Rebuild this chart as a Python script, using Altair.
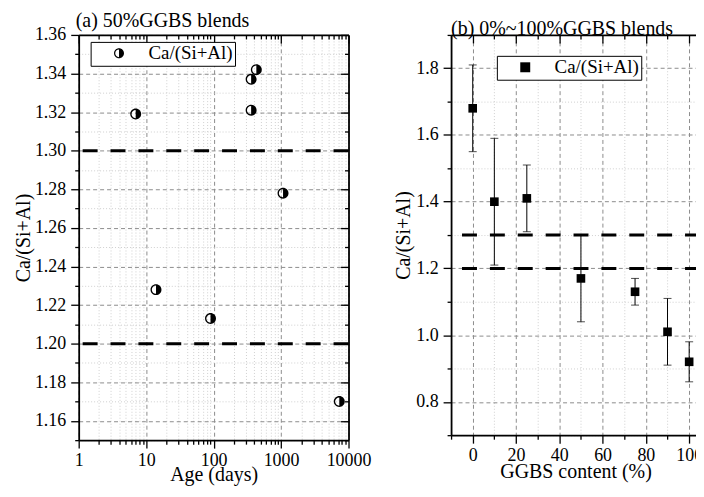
import altair as alt
import pandas as pd

FONT = "Liberation Serif"
series_name = ["Ca/(Si+Al)"]

# ---------------- Panel (a): 50% GGBS blends ----------------
age_days = [7, 14, 90, 360, 360, 430, 1070, 7300]
ratio_a = [1.319, 1.228, 1.213, 1.337, 1.321, 1.342, 1.278, 1.170]

# ---------------- Panel (b): 0%~100% GGBS blends ----------------
ggbs_pct = [0, 10, 25, 50, 75, 90, 100]
ratio_b = [1.68, 1.40, 1.41, 1.17, 1.13, 1.01, 0.92]
ratio_b_low = [1.55, 1.21, 1.31, 1.04, 1.09, 0.91, 0.86]
ratio_b_high = [1.81, 1.59, 1.51, 1.30, 1.17, 1.11, 0.98]

limit_lines = [1.2, 1.3]

# tick values
a_x_major = [1, 10, 100, 1000, 10000]
a_x_minor = [2, 3, 4, 5, 6, 7, 8, 9, 20, 30, 40, 50, 60, 70, 80, 90,
             200, 300, 400, 500, 600, 700, 800, 900,
             2000, 3000, 4000, 5000, 6000, 7000, 8000, 9000]
a_y_major = [1.16, 1.18, 1.20, 1.22, 1.24, 1.26, 1.28, 1.30, 1.32, 1.34, 1.36]
a_y_minor = [1.15, 1.17, 1.19, 1.21, 1.23, 1.25, 1.27, 1.29, 1.31, 1.33, 1.35]
b_x_major = [0, 20, 40, 60, 80, 100]
b_x_minor = [-10, 10, 30, 50, 70, 90]
b_y_major = [0.8, 1.0, 1.2, 1.4, 1.6, 1.8]
b_y_minor = [0.7, 0.9, 1.1, 1.3, 1.5, 1.7, 1.9]

HALF_CIRCLE = ("M0,-1A1,1,0,0,1,0,1A1,1,0,0,1,0,-1Z"
               "M0,-0.76A0.76,0.76,0,0,0,0,0.76Z")

W_A, H_A = 271, 407
W_B, H_B = 250, 402

MAJOR_GRID = dict(grid=True, gridDash=[4, 3], gridColor="#8c8c8c", gridWidth=1)
MINOR_GRID = dict(grid=True, gridDash=[1, 2], gridColor="#d0d0d0", gridWidth=1)


def ax_major_main(values, orient, title, fmt, label_pad, title_pad):
    return alt.Axis(values=values, orient=orient, title=title, format=fmt,
                    tickSize=8, tickWidth=1.3, domainWidth=1.8,
                    labelPadding=label_pad, titlePadding=title_pad,
                    labelFlush=False, labelOverlap=False, **MAJOR_GRID)


def ax_minor_main(values, orient):
    return alt.Axis(values=values, orient=orient, title=None, labels=False,
                    tickSize=4, tickWidth=1.3, domain=False, **MINOR_GRID)


def ax_mirror(values, orient, offset, size, domain):
    return alt.Axis(values=values, orient=orient, title=None, labels=False,
                    tickSize=size, tickWidth=1.3, domain=domain, domainWidth=1.8,
                    grid=False, offset=offset)


def axis_layer(df, xf, yf, xs, ys, xaxis, yaxis):
    return alt.Chart(df).mark_point(opacity=0).encode(
        x=alt.X(xf, type="quantitative", scale=xs, axis=xaxis),
        y=alt.Y(yf, type="quantitative", scale=ys, axis=yaxis),
    )


def legend(x, y, sym_off, lab_off):
    return alt.Legend(title=None, orient="none", legendX=x, legendY=y,
                      strokeColor="black", fillColor="white", padding=2,
                      cornerRadius=0, labelFont=FONT, labelFontSize=19,
                      labelColor="black", symbolFillColor="black",
                      symbolStrokeWidth=0, symbolOffset=sym_off,
                      labelOffset=lab_off)


def panel_title(text, dx):
    return alt.TitleParams(text, anchor="start", frame="group", fontSize=20,
                           font=FONT, fontWeight="normal", color="black",
                           offset=-5, dx=dx)


# ---------- panel a ----------
df_a = pd.DataFrame({"age": age_days, "ratio": ratio_a,
                     "series": series_name * len(age_days)})
df_lines = pd.DataFrame({"limit": limit_lines})

xs_a = alt.Scale(type="log", domain=[1, 10000], nice=False)
ys_a = alt.Scale(domain=[1.15, 1.36], nice=False, zero=False)

a_minor = axis_layer(df_a, "age", "ratio", xs_a, ys_a,
                     ax_minor_main(a_x_minor, "bottom"),
                     ax_minor_main(a_y_minor, "left"))
a_major = axis_layer(df_a, "age", "ratio", xs_a, ys_a,
                     ax_major_main(a_x_major, "bottom", "Age (days)", "d", 3, -4),
                     ax_major_main(a_y_major, "left", "Ca/(Si+Al)", ".2f", 5, 1))
a_mirror_major = axis_layer(df_a, "age", "ratio", xs_a, ys_a,
                            ax_mirror(a_x_major, "bottom", -H_A, 8, True),
                            ax_mirror(a_y_major, "left", -W_A, 8, True))
a_mirror_minor = axis_layer(df_a, "age", "ratio", xs_a, ys_a,
                            ax_mirror(a_x_minor, "bottom", -H_A, 4, False),
                            ax_mirror(a_y_minor, "left", -W_A, 4, False))
a_lines = alt.Chart(df_lines).mark_rule(color="black", strokeWidth=3,
                                        strokeDash=[15, 13]).encode(
    y=alt.Y("limit:Q", scale=ys_a, axis=None))
a_points = alt.Chart(df_a).mark_point(filled=True, fill="black", strokeWidth=0,
                                      size=121, opacity=1).encode(
    x=alt.X("age:Q", scale=xs_a, axis=None),
    y=alt.Y("ratio:Q", scale=ys_a, axis=None),
    shape=alt.Shape("series:N", scale=alt.Scale(range=[HALF_CIRCLE]),
                    legend=legend(12, 7, 17, 20)),
)

panel_a = alt.layer(a_minor, a_major, a_mirror_minor, a_mirror_major,
                    a_lines, a_points).resolve_axis(
    x="independent", y="independent").properties(
    width=W_A, height=H_A, title=panel_title("(a) 50%GGBS blends", -3))

# ---------- panel b ----------
df_b = pd.DataFrame({"ggbs": ggbs_pct, "ratio": ratio_b, "low": ratio_b_low,
                     "high": ratio_b_high,
                     "series": series_name * len(ggbs_pct)})
xs_b = alt.Scale(domain=[-10, 105], nice=False, zero=False)
ys_b = alt.Scale(domain=[0.7, 1.9], nice=False, zero=False)

b_minor = axis_layer(df_b, "ggbs", "ratio", xs_b, ys_b,
                     ax_minor_main(b_x_minor, "bottom"),
                     ax_minor_main(b_y_minor, "left"))
b_major = axis_layer(df_b, "ggbs", "ratio", xs_b, ys_b,
                     ax_major_main(b_x_major, "bottom", "GGBS content (%)", "d", 3, -2),
                     ax_major_main(b_y_major, "left", "Ca/(Si+Al)", ".1f", 5, 2))
b_mirror_major = axis_layer(df_b, "ggbs", "ratio", xs_b, ys_b,
                            ax_mirror(b_x_major, "bottom", -H_B, 8, True),
                            None)
b_mirror_minor = axis_layer(df_b, "ggbs", "ratio", xs_b, ys_b,
                            ax_mirror(b_x_minor, "bottom", -H_B, 4, False),
                            None)
b_lines = alt.Chart(df_lines).mark_rule(color="black", strokeWidth=3,
                                        strokeDash=[15, 13]).encode(
    y=alt.Y("limit:Q", scale=ys_b, axis=None))
b_err = alt.Chart(df_b).mark_rule(color="black", strokeWidth=1).encode(
    x=alt.X("ggbs:Q", scale=xs_b, axis=None),
    y=alt.Y("low:Q", scale=ys_b, axis=None),
    y2="high:Q")
b_cap_lo = alt.Chart(df_b).mark_tick(orient="horizontal", size=8, thickness=1,
                                     color="black").encode(
    x=alt.X("ggbs:Q", scale=xs_b, axis=None),
    y=alt.Y("low:Q", scale=ys_b, axis=None))
b_cap_hi = alt.Chart(df_b).mark_tick(orient="horizontal", size=8, thickness=1,
                                     color="black").encode(
    x=alt.X("ggbs:Q", scale=xs_b, axis=None),
    y=alt.Y("high:Q", scale=ys_b, axis=None))
b_points = alt.Chart(df_b).mark_point(filled=True, fill="black", strokeWidth=0,
                                      size=75, opacity=1).encode(
    x=alt.X("ggbs:Q", scale=xs_b, axis=None),
    y=alt.Y("ratio:Q", scale=ys_b, axis=None),
    shape=alt.Shape("series:N", scale=alt.Scale(range=["square"]),
                    legend=legend(46, 21, 17, 20)),
)

panel_b = alt.layer(b_minor, b_major, b_mirror_minor, b_mirror_major,
                    b_lines, b_err, b_cap_lo, b_cap_hi, b_points).resolve_axis(
    x="independent", y="independent").properties(
    width=W_B, height=H_B, title=panel_title("(b) 0%~100%GGBS blends", 0))

chart = alt.hconcat(panel_a, panel_b, spacing=22).properties(
    padding={"left": 5, "top": 2, "right": -7, "bottom": 0}
).resolve_scale(shape="independent").configure(font=FONT).configure_view(
    stroke=None
).configure_axis(
    labelFont=FONT, titleFont=FONT, labelFontSize=18, titleFontSize=20,
    labelColor="black", titleColor="black", titleFontWeight="normal",
    domainColor="black", tickColor="black"
)

chart.save("out.html", embed_options={"renderer": "svg", "actions": False})
